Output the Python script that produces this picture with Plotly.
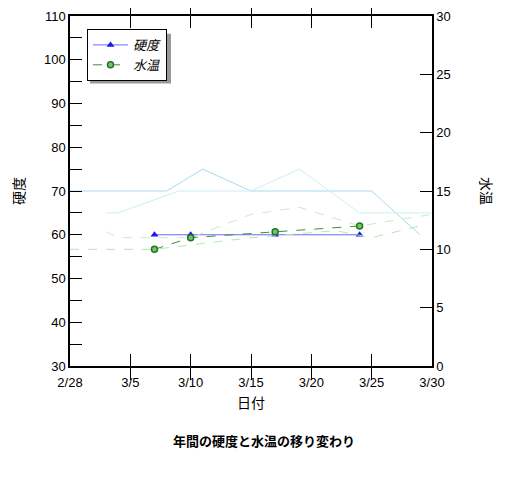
import plotly.graph_objects as go

# main series (this year)
dates = ["2023-03-07", "2023-03-10", "2023-03-17", "2023-03-24"]
hardness = [60, 60, 60, 60]
water_temp = [10.0, 11.0, 11.5, 12.0]

# faint lines from other years
hard_a_dates = ["2023-02-28", "2023-03-08", "2023-03-11", "2023-03-15", "2023-03-25", "2023-03-29"]
hard_a = [70, 70, 75, 70, 70, 60]
hard_b_dates = ["2023-03-03", "2023-03-04", "2023-03-09", "2023-03-15", "2023-03-19", "2023-03-24", "2023-03-30"]
hard_b = [65, 65, 70, 70, 75, 65, 65]
temp_c_dates = ["2023-03-03", "2023-03-04", "2023-03-10", "2023-03-15", "2023-03-19", "2023-03-24", "2023-03-30"]
temp_c = [11.5, 11.0, 11.0, 13.0, 13.6, 12.0, 13.0]
temp_d_dates = ["2023-02-28", "2023-03-07", "2023-03-15", "2023-03-22", "2023-03-25", "2023-03-29"]
temp_d = [10.0, 10.0, 11.0, 11.6, 11.0, 12.0]

font = "Noto Sans CJK JP"

fig = go.Figure()
fig.add_trace(go.Scatter(x=hard_a_dates, y=hard_a, mode="lines", showlegend=False,
                         line=dict(color="#a6dcec", width=1)))
fig.add_trace(go.Scatter(x=hard_b_dates, y=hard_b, mode="lines", showlegend=False,
                         line=dict(color="#cdeef6", width=1)))
fig.add_trace(go.Scatter(x=temp_c_dates, y=temp_c, mode="lines", showlegend=False, yaxis="y2",
                         line=dict(color="#c4eec4", width=1, dash="dash")))
fig.add_trace(go.Scatter(x=temp_d_dates, y=temp_d, mode="lines", showlegend=False, yaxis="y2",
                         line=dict(color="#b4e8b4", width=1, dash="dash")))
fig.add_trace(go.Scatter(x=dates, y=hardness, name="硬度", mode="lines+markers",
                         line=dict(color="#6a6aff", width=1),
                         marker=dict(symbol="triangle-up", size=7, color="#1a1aee")))
fig.add_trace(go.Scatter(x=dates, y=water_temp, name="水温", mode="lines+markers", yaxis="y2",
                         line=dict(color="#3d8f3d", width=1, dash="dash"),
                         marker=dict(symbol="circle", size=6, color="#77c466",
                                     line=dict(color="#227722", width=1.5))))

tickfont = dict(family="Liberation Sans", size=13, color="black")
fig.update_layout(
    width=512, height=477,
    margin=dict(l=62, r=88, t=8, b=119),
    plot_bgcolor="white", paper_bgcolor="white",
    font=dict(family=font, size=13, color="black"),
    showlegend=True,
    legend=dict(x=0.047, y=0.963, xanchor="left", yanchor="top",
                bgcolor="white", bordercolor="black", borderwidth=1,
                font=dict(family=font, size=13, style="italic"),
                itemwidth=35, tracegroupgap=0),
    xaxis=dict(type="date", range=["2023-02-28", "2023-03-30"],
               tick0="2023-02-28", dtick=5 * 86400000, tickformat="%-m/%-d",
               ticks="inside", ticklen=12, tickcolor="black", ticklabelstandoff=4,
               showline=True, linecolor="black", linewidth=1.5, mirror="allticks",
               showgrid=False, zeroline=False, tickfont=tickfont, automargin=False,
               ticklabeloverflow="allow",
               title=dict(text="日付", font=dict(family=font, size=14), standoff=9)),
    yaxis=dict(range=[30, 110], dtick=10, ticks="inside", ticklen=12, tickcolor="black",
               minor=dict(dtick=5, ticks="inside", ticklen=12, tickcolor="black"),
               showline=True, linecolor="black", linewidth=1.5, automargin=False,
               showgrid=False, zeroline=False, tickfont=tickfont, ticklabeloverflow="allow",
               title=dict(text="硬度", font=dict(family=font, size=14), standoff=32)),
    yaxis2=dict(range=[0, 30], dtick=5, overlaying="y", side="right",
                ticks="inside", ticklen=12, tickcolor="black", automargin=False,
                showline=True, linecolor="black", linewidth=1.5, ticklabeloverflow="allow",
                showgrid=False, zeroline=False, tickfont=tickfont),
    title=dict(text="<b>年間の硬度と水温の移り変わり</b>", x=0.5, xanchor="center",
               y=0.092, yanchor="middle", font=dict(family=font, size=13)),
)
fig.add_annotation(text="水温", textangle=90, xref="paper", yref="paper",
                   x=1.152, y=0.5, xanchor="center", yanchor="middle",
                   showarrow=False, font=dict(family=font, size=14))
# legend shadow
fig.add_shape(type="rect", xref="paper", yref="paper", x0=0.055, x1=0.279,
              y0=0.807, y1=0.949, fillcolor="#999999", line=dict(width=0), layer="above")

fig.write_html("out.html")
